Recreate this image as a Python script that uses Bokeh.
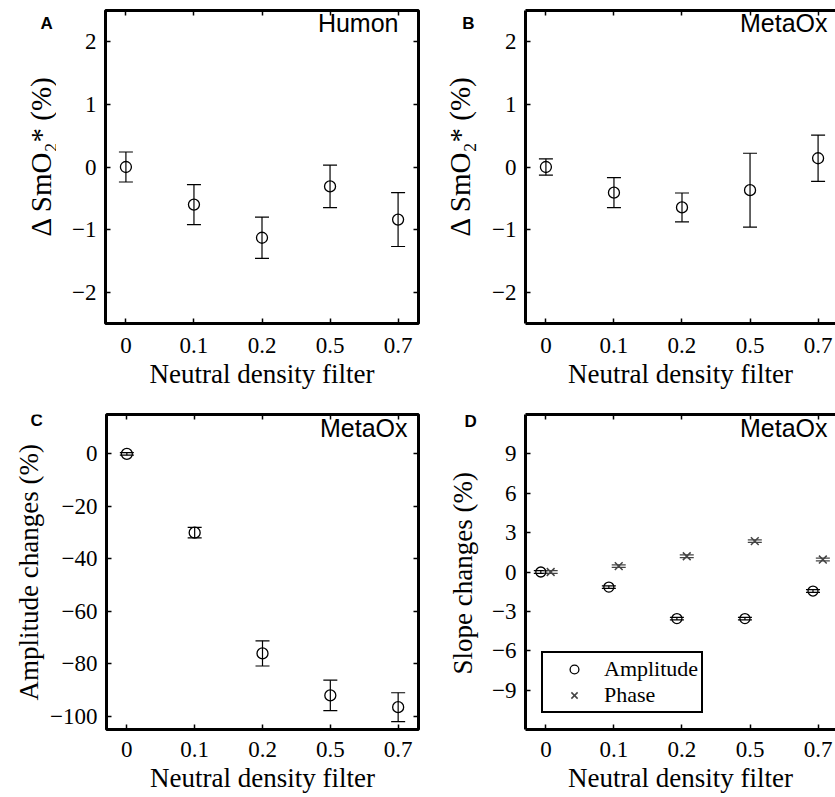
import math
from bokeh.plotting import figure
from bokeh.models import (Range1d, FixedTicker, LinearAxis, Label, Whisker, TeeHead,
                          ColumnDataSource, Legend, LegendItem)
from bokeh.core.properties import value
from bokeh.layouts import column, row
from bokeh.embed import file_html
from bokeh.resources import INLINE

# ---------------- data ----------------
filters = ["0", "0.1", "0.2", "0.5", "0.7"]

humon_mean = [0.0, -0.60, -1.13, -0.31, -0.84]
humon_err = [0.24, 0.32, 0.33, 0.34, 0.43]

metaox_mean = [0.0, -0.41, -0.645, -0.37, 0.14]
metaox_err = [0.13, 0.24, 0.23, 0.59, 0.37]

amp_mean = [0.0, -30.0, -76.0, -92.0, -96.5]
amp_err = [0.5, 2.0, 4.8, 5.8, 5.5]

slope_amp = [0.0, -1.15, -3.55, -3.55, -1.45]
slope_amp_err = [0.1, 0.1, 0.1, 0.1, 0.1]
slope_phase = [0.0, 0.45, 1.2, 2.35, 0.95]
slope_phase_err = [0.1, 0.1, 0.1, 0.1, 0.1]

ticks_ab = [-2, -1, 0, 1, 2]
ticks_c = [-100, -80, -60, -40, -20, 0]
ticks_d = [-9, -6, -3, 0, 3, 6, 9]

x_title = "Neutral density filter"
y_title_ab = "\u0394 SmO\u2082* (%)"
y_title_c = "Amplitude changes (%)"
y_title_d = "Slope changes (%)"

# ---------------- style ----------------
SERIF = "Liberation Serif"
SANS = "Liberation Sans"
TICK_PX = "23px"
LABEL_PX = "27px"
ROT = math.pi / 2

xpos = [i + 1 for i in range(len(filters))]
x_over = {x: f for x, f in zip(xpos, filters)}


def y_over(ticks):
    return {t: f"{t:g}".replace("-", "\u2212") for t in ticks}


def style_axis(ax, ticks, overrides, labels, line):
    ax.ticker = FixedTicker(ticks=ticks)
    ax.major_tick_in = 5
    ax.major_tick_out = 0
    ax.major_tick_line_width = 1.5
    ax.major_tick_line_color = "black"
    ax.minor_tick_line_color = None
    ax.axis_line_color = "black" if line else None
    ax.axis_line_width = 3
    if labels:
        ax.major_label_overrides = overrides
        ax.major_label_text_font = SERIF
        ax.major_label_text_font_size = TICK_PX
        ax.major_label_text_color = "black"
    else:
        ax.major_label_overrides = {t: "" for t in ticks}
        ax.major_label_text_font_size = "0px"
        ax.major_label_standoff = 0


def make_panel(width, height, mbl, mbr, mbt, mbb, xr, yr, yticks, closed, xstand):
    p = figure(width=width, height=height, x_range=Range1d(*xr), y_range=Range1d(*yr),
               output_backend="svg", toolbar_location=None, tools="",
               min_border_left=mbl, min_border_right=mbr,
               min_border_top=mbt, min_border_bottom=mbb)
    p.xgrid.visible = False
    p.ygrid.visible = False
    p.background_fill_color = "white"
    p.border_fill_color = "white"
    if closed:
        p.outline_line_color = "black"
        p.outline_line_width = 3
        p.outline_line_alpha = 1
    else:
        p.outline_line_color = None
    xa = p.xaxis[0]
    style_axis(xa, xpos, x_over, True, not closed)
    xa.major_label_standoff = xstand
    xa.axis_label = x_title
    xa.axis_label_text_font = SERIF
    xa.axis_label_text_font_size = LABEL_PX
    xa.axis_label_text_font_style = "normal"
    xa.axis_label_text_color = "black"
    xa.axis_label_standoff = 3
    ya = p.yaxis[0]
    style_axis(ya, yticks, y_over(yticks), True, not closed)
    ya.major_label_standoff = 9
    top = LinearAxis()
    style_axis(top, xpos, x_over, False, not closed)
    p.add_layout(top, "above")
    if closed:
        right = LinearAxis()
        style_axis(right, yticks, y_over(yticks), False, False)
        p.add_layout(right, "right")
    return p


height_offset = {400: 0, 397: 400}


def gutter(x0, width, height, top, bottom):
    # blank strip left of a panel; its frame uses the same top/bottom borders as the
    # panel, and its ranges are page pixels (y negated so that it grows downwards)
    g = figure(width=width, height=height, x_range=Range1d(x0, x0 + width),
               y_range=Range1d(-(height_offset[height] + height - bottom),
                               -(height_offset[height] + top)),
               output_backend="svg", toolbar_location=None, tools="",
               min_border_left=0, min_border_right=0,
               min_border_top=top, min_border_bottom=bottom,
               x_axis_location=None, y_axis_location=None)
    g.xgrid.visible = False
    g.ygrid.visible = False
    g.outline_line_color = None
    g.background_fill_color = "white"
    g.border_fill_color = "white"
    return g


def text(p, x, y, s, size, font=SERIF, xo=0, yo=0, align="left",
         baseline="alphabetic", style="normal", color="black"):
    p.add_layout(Label(x=x, y=y, text=s, x_offset=xo, y_offset=yo, text_font=font,
                       text_font_size=size, text_align=align, text_baseline=baseline,
                       text_font_style=style, text_color=color))


def vtext(g, x, y, s, size):
    # rotated axis title drawn as a text glyph, starting at (x, y) and reading upwards
    g.text(x=[x], y=[y], text=[s], angle=ROT, text_align="left",
           text_baseline="middle", text_font=value(SERIF),
           text_font_size=value(size), text_color="black")


def err_points(p, xs, mean, err, color="black", marker="circle", size=11, dx=0.0, lw=1.3):
    bx = [x + dx for x in xs]
    src = ColumnDataSource(dict(x=bx, y=mean,
                                upper=[m + e for m, e in zip(mean, err)],
                                lower=[m - e for m, e in zip(mean, err)]))
    w = Whisker(base="x", upper="upper", lower="lower", source=src, dimension="height",
                line_color=color, line_width=1.2,
                upper_head=TeeHead(size=14, line_color=color, line_width=1.2),
                lower_head=TeeHead(size=14, line_color=color, line_width=1.2))
    p.add_layout(w)
    r = p.scatter("x", "y", source=src, marker=marker, size=size, fill_color=None,
                  line_color=color, line_width=lw)
    return r


XR_FULL = (0.7, 5.3)
XR_CUT = (0.7, 5.256)

# ---------------- row 1 ----------------
gA = gutter(0, 56, 400, 10, 77)
vtext(gA, 40.5, -236, y_title_ab, "29px")
text(gA, 40, -23, "A", "17px", font=SANS, style="bold")

pA = make_panel(374, 400, 49, 12, 10, 77, XR_FULL, (-2.5, 2.5), ticks_ab, True, 14)
err_points(pA, xpos, humon_mean, humon_err)
text(pA, pA.x_range.end, pA.y_range.end, "Humon", "25px", font=SANS, xo=-20, yo=-12, align="right")

gB = gutter(430, 50, 400, 10, 77)
vtext(gB, 459.5, -236, y_title_ab, "29px")
text(gB, 461.7, -23, "B", "17px", font=SANS, style="bold")

pB = make_panel(355, 400, 45, 0, 10, 77, XR_CUT, (-2.5, 2.5), ticks_ab, False, 14)
err_points(pB, xpos, metaox_mean, metaox_err)
text(pB, pB.x_range.end, pB.y_range.end, "MetaOx", "25px", font=SANS, xo=-8, yo=-12, align="right")

# ---------------- row 2 ----------------
gC = gutter(0, 47, 397, 14, 68)
vtext(gC, 28.4, -700, y_title_c, LABEL_PX)
text(gC, 30, -420, "C", "17px", font=SANS, style="bold")

pC = make_panel(383, 397, 58, 12, 14, 68, XR_FULL, (-105, 15), ticks_c, True, 12)
err_points(pC, xpos, amp_mean, amp_err)
text(pC, pC.x_range.end, pC.y_range.end, "MetaOx", "25px", font=SANS, xo=-11, yo=-13, align="right")

gD = gutter(430, 50, 397, 14, 68)
vtext(gD, 462.9, -674, y_title_d, LABEL_PX)
text(gD, 464, -421, "D", "17px", font=SANS, style="bold")

pD = make_panel(355, 397, 45, 0, 14, 68, XR_CUT, (-12, 12), ticks_d, False, 12)
r_amp = err_points(pD, xpos, slope_amp, slope_amp_err, size=10, dx=-0.075)
r_ph = err_points(pD, xpos, slope_phase, slope_phase_err, color="#444444", marker="x",
                  size=11, dx=0.07, lw=1.5)
text(pD, pD.x_range.end, pD.y_range.end, "MetaOx", "25px", font=SANS, xo=-8, yo=-13, align="right")

legend = Legend(items=[LegendItem(label="Amplitude", renderers=[r_amp]),
                       LegendItem(label="Phase", renderers=[r_ph])],
                location=(16, 16), margin=0, padding=3, spacing=0,
                glyph_width=56, glyph_height=22, label_height=22, label_standoff=2,
                label_text_font=SERIF, label_text_font_size="22px", label_text_color="black",
                border_line_color="black", border_line_width=2.5, border_line_alpha=1,
                background_fill_color="white", background_fill_alpha=1)
pD.add_layout(legend)

layout = column(row(gA, pA, gB, pB), row(gC, pC, gD, pD))

open("out.html", "w").write(file_html(layout, INLINE))
